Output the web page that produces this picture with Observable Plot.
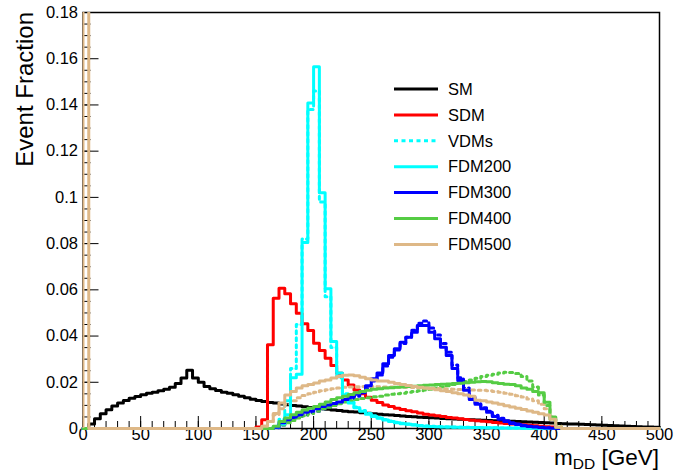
<!DOCTYPE html>
<html>
<head>
<meta charset="utf-8">
<script src="https://cdn.jsdelivr.net/npm/d3@7"></script>
<script src="https://cdn.jsdelivr.net/npm/@observablehq/plot@0.6"></script>
<style>
  body { margin: 0; background: #fff; }
  svg { display: block; }
</style>
</head>
<body>
<div id="chart"></div>
<script>
// 100 bins of 5 GeV from 0 to 500
const SM = [
  0, 0.002, 0.0042, 0.0064, 0.0081, 0.0097, 0.011, 0.0121, 0.0131, 0.0138,
  0.0146, 0.0152, 0.0157, 0.0163, 0.017, 0.0178, 0.0195, 0.0219, 0.0252, 0.0219,
  0.02, 0.0182, 0.0172, 0.0164, 0.0157, 0.0152, 0.0146, 0.014, 0.0133, 0.0127,
  0.0121, 0.0117, 0.0113, 0.011, 0.0106, 0.0103, 0.01, 0.0097, 0.0094, 0.0091,
  0.0088, 0.0085, 0.0083, 0.008, 0.0078, 0.0075, 0.0073, 0.0071, 0.0068, 0.0066,
  0.0064, 0.0062, 0.006, 0.0058, 0.0056, 0.0054, 0.0052, 0.0051, 0.0049, 0.0048,
  0.0046, 0.0045, 0.0043, 0.0042, 0.0041, 0.004, 0.0039, 0.0038, 0.0037, 0.0036,
  0.0035, 0.0034, 0.0033, 0.0032, 0.0031, 0.003, 0.0029, 0.0028, 0.0027, 0.0026,
  0.0025, 0.0024, 0.0022, 0.0021, 0.002, 0.0019, 0.0018, 0.0017, 0.0016, 0.0015,
  0.0014, 0.0013, 0.0012, 0.0011, 0.001, 0.0009, 0.0008, 0.0007, 0.0006, 0.0005
];
const SDM = [
  0, 0, 0, 0, 0, 0, 0, 0, 0, 0,
  0, 0, 0, 0, 0, 0, 0, 0, 0, 0,
  0, 0, 0, 0, 0, 0, 0, 0, 0, 0,
  0.0006, 0.0038, 0.0362, 0.0564, 0.0607, 0.0583, 0.054, 0.0499, 0.0453, 0.0424,
  0.0369, 0.0337, 0.0304, 0.0273, 0.0239, 0.021, 0.0188, 0.0167, 0.015, 0.0135,
  0.0122, 0.0112, 0.0102, 0.0095, 0.0088, 0.0082, 0.0077, 0.0072, 0.0067, 0.0062,
  0.0058, 0.0055, 0.0052, 0.0048, 0.0045, 0.0042, 0.0039, 0.0036, 0.0034, 0.0031,
  0.0029, 0.0026, 0.0024, 0.0022, 0.002, 0.0018, 0.0016, 0.0014, 0.0012, 0.001,
  0.0008, 0.0006, 0, 0, 0, 0, 0, 0, 0, 0,
  0, 0, 0, 0, 0, 0, 0, 0, 0, 0
];
const VDM200 = [
  0, 0, 0, 0, 0, 0, 0, 0, 0, 0,
  0, 0, 0, 0, 0, 0, 0, 0, 0, 0,
  0, 0, 0, 0, 0, 0, 0, 0, 0, 0,
  0, 0, 0, 0.001, 0.004, 0.012, 0.026, 0.045, 0.082, 0.138,
  0.146, 0.098, 0.057, 0.035, 0.022, 0.015, 0.0115, 0.0093, 0.0078, 0.0065,
  0.0055, 0.0046, 0.0039, 0.0032, 0.0027, 0.0023, 0.0019, 0.0016, 0.0013, 0.0011,
  0.001, 0.0009, 0.0008, 0.0007, 0.0006, 0.0005, 0.0005, 0.0004, 0.0004, 0.0003,
  0.0003, 0.0003, 0.0002, 0.0002, 0.0002, 0.0002, 0.0001, 0.0001, 0.0001, 0.0001,
  0, 0, 0, 0, 0, 0, 0, 0, 0, 0,
  0, 0, 0, 0, 0, 0, 0, 0, 0, 0
];
const VDM300 = [
  0, 0, 0, 0, 0, 0, 0, 0, 0, 0,
  0, 0, 0, 0, 0, 0, 0, 0, 0, 0,
  0, 0, 0, 0, 0, 0, 0, 0, 0, 0,
  0, 0, 0, 0.0003, 0.0015, 0.003, 0.004, 0.005, 0.006, 0.0068,
  0.0075, 0.0085, 0.0093, 0.01, 0.0108, 0.0118, 0.0128, 0.014, 0.0155, 0.0175,
  0.0205, 0.0232, 0.027, 0.0308, 0.034, 0.0368, 0.0395, 0.0425, 0.0455, 0.0465,
  0.0435, 0.0405, 0.0368, 0.033, 0.0275, 0.022, 0.0175, 0.0135, 0.011, 0.009,
  0.0075, 0.0057, 0.0044, 0.0033, 0.0025, 0.0019, 0.0014, 0.001, 0.0007, 0.0005,
  0.0003, 0.0001, 0, 0, 0, 0, 0, 0, 0, 0,
  0, 0, 0, 0, 0, 0, 0, 0, 0, 0
];
const VDM400 = [
  0, 0, 0, 0, 0, 0, 0, 0, 0, 0,
  0, 0, 0, 0, 0, 0, 0, 0, 0, 0,
  0, 0, 0, 0, 0, 0, 0, 0, 0, 0,
  0, 0, 0, 0.0005, 0.0015, 0.0025, 0.0035, 0.0045, 0.0055, 0.0065,
  0.0075, 0.0085, 0.0092, 0.01, 0.0107, 0.0115, 0.012, 0.0125, 0.013, 0.0133,
  0.0137, 0.014, 0.0145, 0.0148, 0.015, 0.0153, 0.0157, 0.016, 0.0163, 0.0167,
  0.017, 0.0175, 0.018, 0.0185, 0.019, 0.0197, 0.0203, 0.021, 0.0217, 0.0225,
  0.023, 0.0235, 0.024, 0.0243, 0.0242, 0.0238, 0.0225, 0.0205, 0.018, 0.0145,
  0.01, 0.004, 0.0005, 0, 0, 0, 0, 0, 0, 0,
  0, 0, 0, 0, 0, 0, 0, 0, 0, 0
];
const VDM500 = [
  0, 0, 0, 0, 0, 0, 0, 0, 0, 0,
  0, 0, 0, 0, 0, 0, 0, 0, 0, 0,
  0, 0, 0, 0, 0, 0, 0, 0, 0, 0,
  0, 0.001, 0.003, 0.006, 0.0085, 0.0105, 0.012, 0.0133, 0.0143, 0.015,
  0.0157, 0.0163, 0.0168, 0.0172, 0.0175, 0.0178, 0.018, 0.0181, 0.0182, 0.0182,
  0.0182, 0.0181, 0.018, 0.018, 0.0179, 0.0178, 0.0178, 0.0177, 0.0176, 0.0175,
  0.0174, 0.0173, 0.0172, 0.0171, 0.017, 0.0169, 0.0168, 0.0167, 0.0166, 0.0165,
  0.0163, 0.016, 0.0157, 0.0153, 0.0148, 0.0142, 0.0136, 0.0128, 0.012, 0.0105,
  0.0085, 0.005, 0.001, 0, 0, 0, 0, 0, 0, 0,
  0, 0, 0, 0, 0, 0, 0, 0, 0, 0
];
const FDM200 = [
  0, 0, 0, 0, 0, 0, 0, 0, 0, 0,
  0, 0, 0, 0, 0, 0, 0, 0, 0, 0,
  0, 0, 0, 0, 0, 0, 0, 0, 0, 0,
  0, 0, 0, 0.0005, 0.002, 0.006, 0.022, 0.0235, 0.0805, 0.1408,
  0.1565, 0.102, 0.0605, 0.0376, 0.024, 0.0145, 0.011, 0.009, 0.0075, 0.0062,
  0.0052, 0.0044, 0.0037, 0.003, 0.0025, 0.0021, 0.0018, 0.0015, 0.0012, 0.001,
  0.0009, 0.0008, 0.0007, 0.0006, 0.0005, 0.0005, 0.0004, 0.0004, 0.0004, 0.0003,
  0.0003, 0.0003, 0.0002, 0.0002, 0.0002, 0.0002, 0.0001, 0.0001, 0.0001, 0.0001,
  0, 0, 0, 0, 0, 0, 0, 0, 0, 0,
  0, 0, 0, 0, 0, 0, 0, 0, 0, 0
];
const FDM300 = [
  0, 0, 0, 0, 0, 0, 0, 0, 0, 0,
  0, 0, 0, 0, 0, 0, 0, 0, 0, 0,
  0, 0, 0, 0, 0, 0, 0, 0, 0, 0,
  0, 0, 0, 0.0005, 0.0025, 0.004, 0.005, 0.006, 0.007, 0.0075,
  0.0085, 0.0095, 0.0102, 0.0108, 0.0115, 0.0125, 0.0135, 0.0148, 0.016, 0.0185,
  0.0215, 0.024, 0.028, 0.0316, 0.0345, 0.0373, 0.0395, 0.0417, 0.0446, 0.0446,
  0.0417, 0.0388, 0.0352, 0.0316, 0.026, 0.0208, 0.0165, 0.0125, 0.0105, 0.0085,
  0.007, 0.0052, 0.004, 0.003, 0.0022, 0.0017, 0.0012, 0.0009, 0.0006, 0.0004,
  0.0002, 0.0001, 0, 0, 0, 0, 0, 0, 0, 0,
  0, 0, 0, 0, 0, 0, 0, 0, 0, 0
];
const FDM400 = [
  0, 0, 0, 0, 0, 0, 0, 0, 0, 0,
  0, 0, 0, 0, 0, 0, 0, 0, 0, 0,
  0, 0, 0, 0, 0, 0, 0, 0, 0, 0,
  0, 0, 0, 0.001, 0.003, 0.0045, 0.006, 0.007, 0.008, 0.0088,
  0.0095, 0.0105, 0.0115, 0.0125, 0.0133, 0.014, 0.0147, 0.0155, 0.016, 0.0165,
  0.017, 0.0172, 0.0175, 0.0176, 0.0178, 0.018, 0.0182, 0.0183, 0.0185, 0.0187,
  0.0188, 0.019, 0.0191, 0.0193, 0.0195, 0.0196, 0.0198, 0.02, 0.0202, 0.0203,
  0.0202, 0.0198, 0.0195, 0.0192, 0.019, 0.0185, 0.0175, 0.017, 0.016, 0.0155,
  0.0114, 0.005, 0.0005, 0, 0, 0, 0, 0, 0, 0,
  0, 0, 0, 0, 0, 0, 0, 0, 0, 0
];
const FDM500 = [
  0.3, 0, 0, 0, 0, 0, 0, 0, 0, 0,
  0, 0, 0, 0, 0, 0, 0, 0, 0, 0,
  0, 0, 0, 0, 0, 0, 0, 0, 0, 0,
  0, 0.001, 0.003, 0.0065, 0.011, 0.0145, 0.016, 0.0175, 0.0185, 0.019,
  0.0197, 0.0205, 0.021, 0.0218, 0.0225, 0.023, 0.0232, 0.0228, 0.0222, 0.0215,
  0.021, 0.0206, 0.0205, 0.02, 0.0195, 0.019, 0.0186, 0.0182, 0.0178, 0.0175,
  0.0172, 0.0168, 0.0163, 0.016, 0.0155, 0.015, 0.0145, 0.014, 0.0122, 0.012,
  0.0115, 0.011, 0.0105, 0.0098, 0.0093, 0.0088, 0.0082, 0.0076, 0.007, 0.0064,
  0.0058, 0.004, 0.0005, 0, 0, 0, 0, 0, 0, 0,
  0, 0, 0, 0, 0, 0, 0, 0, 0, 0
];

const binWidth = 5;
const xMajor = [0, 50, 100, 150, 200, 250, 300, 350, 400, 450, 500];
const xMajorLabels = ["0", "50", "100", "150", "200", "250", "300", "350", "400", "450", "500"];
const xMinor = d3.range(0, 501, 10);
const yMajor = [0, 0.02, 0.04, 0.06, 0.08, 0.1, 0.12, 0.14, 0.16, 0.18];
const yMajorLabels = ["0", "0.02", "0.04", "0.06", "0.08", "0.1", "0.12", "0.14", "0.16", "0.18"];
const yMinor = d3.range(0, 37).map(i => i * 0.005);

const legendNames = ["SM", "SDM", "VDMs", "FDM200", "FDM300", "FDM400", "FDM500"];
const legendColors = ["#000000", "#ff0000", "#00ffff", "#00ffff", "#0000ff", "#55cc44", "#deb887"];
const legendDashed = [false, false, true, false, false, false, false];

const DOT = "3,4";
const seriesList = [
  {values: SM, color: "#000000", dash: null},
  {values: SDM, color: "#ff0000", dash: null},
  {values: VDM200, color: "#00ffff", dash: DOT},
  {values: VDM300, color: "#0000ff", dash: DOT},
  {values: VDM400, color: "#55cc44", dash: DOT},
  {values: VDM500, color: "#deb887", dash: DOT},
  {values: FDM200, color: "#00ffff", dash: null},
  {values: FDM300, color: "#0000ff", dash: null},
  {values: FDM400, color: "#55cc44", dash: null},
  {values: FDM500, color: "#deb887", dash: null, splitFirst: true}
];

// histogram outline points (step-after) for bins [startBin, endBin)
function outline(values, startBin, endBin) {
  const pts = [{x: startBin * binWidth, y: 0}];
  for (let i = startBin; i < endBin; i++) pts.push({x: i * binWidth, y: values[i]});
  pts.push({x: endBin * binWidth, y: 0});
  return pts;
}

const lineMarks = [];
for (const s of seriesList) {
  const n = s.values.length;
  if (s.splitFirst) {
    lineMarks.push(Plot.line(outline(s.values, 0, 1), {x: "x", y: "y", curve: "step-after", stroke: s.color, strokeWidth: 3, clip: true}));
    lineMarks.push(Plot.line(outline(s.values, 1, n), {x: "x", y: "y", curve: "step-after", stroke: s.color, strokeWidth: 3}));
  } else {
    lineMarks.push(Plot.line(outline(s.values, 0, n), {x: "x", y: "y", curve: "step-after", stroke: s.color, strokeWidth: 3, strokeDasharray: s.dash}));
  }
}

const W = 685, H = 474, mL = 82.5, mR = 26, mT = 12, mB = 46;
const plotW = W - mL - mR, plotH = H - mT - mB;

const chart = Plot.plot({
  width: W, height: H,
  marginLeft: mL, marginRight: mR, marginTop: mT, marginBottom: mB,
  x: {domain: [0, 500], axis: null},
  y: {domain: [0, 0.18], axis: null},
  style: {fontFamily: "'Liberation Sans', Arial, Helvetica, sans-serif", fontSize: "16.5px", background: "white", color: "black", overflow: "visible"},
  marks: [
    Plot.frame({stroke: "black", strokeWidth: 1.5}),
    Plot.tickX(xMinor, {x: d => d, insetTop: plotH - 7, stroke: "black", strokeWidth: 1}),
    Plot.tickX(xMajor, {x: d => d, insetTop: plotH - 12, stroke: "black", strokeWidth: 1}),
    Plot.tickY(yMinor, {y: d => d, insetRight: plotW - 8, stroke: "black", strokeWidth: 1}),
    Plot.tickY(yMajor, {y: d => d, insetRight: plotW - 16, stroke: "black", strokeWidth: 1}),
    Plot.text(xMajor, {x: d => d, frameAnchor: "bottom", dy: 11, text: (d, i) => xMajorLabels[i], fill: "black", fontSize: 16.5}),
    Plot.text(yMajor, {y: d => d, frameAnchor: "left", textAnchor: "end", dx: -5, text: (d, i) => yMajorLabels[i], fill: "black", fontSize: 16.5}),
    ...lineMarks
  ]
});

document.getElementById("chart").appendChild(chart);

const svg = d3.select(chart);
const font = "'Liberation Sans', Arial, Helvetica, sans-serif";

// axis titles
svg.append("text")
  .attr("transform", "translate(33,12) rotate(-90)")
  .attr("text-anchor", "end")
  .attr("font-family", font)
  .attr("font-size", 24)
  .attr("fill", "black")
  .text("Event Fraction");

const xt = svg.append("text")
  .attr("x", 659).attr("y", 465)
  .attr("text-anchor", "end")
  .attr("font-family", font)
  .attr("font-size", 22.5)
  .attr("fill", "black");
xt.append("tspan").text("m");
xt.append("tspan").attr("font-size", 15.5).attr("dy", 4).text("DD");
xt.append("tspan").attr("dy", -4).text(" [GeV]");

// legend
const lg = svg.append("g").attr("font-family", font).attr("font-size", 16.5);
legendNames.forEach((name, i) => {
  const y = 89 + i * 25.9;
  lg.append("line")
    .attr("x1", 394).attr("x2", 438).attr("y1", y).attr("y2", y)
    .attr("stroke", legendColors[i]).attr("stroke-width", 3)
    .attr("stroke-dasharray", legendDashed[i] ? "4,3.5" : null);
  lg.append("text").attr("x", 448).attr("y", y).attr("dy", "0.35em")
    .attr("text-anchor", "start")
    .attr("fill", "black").text(name);
});
</script>
</body>
</html>
